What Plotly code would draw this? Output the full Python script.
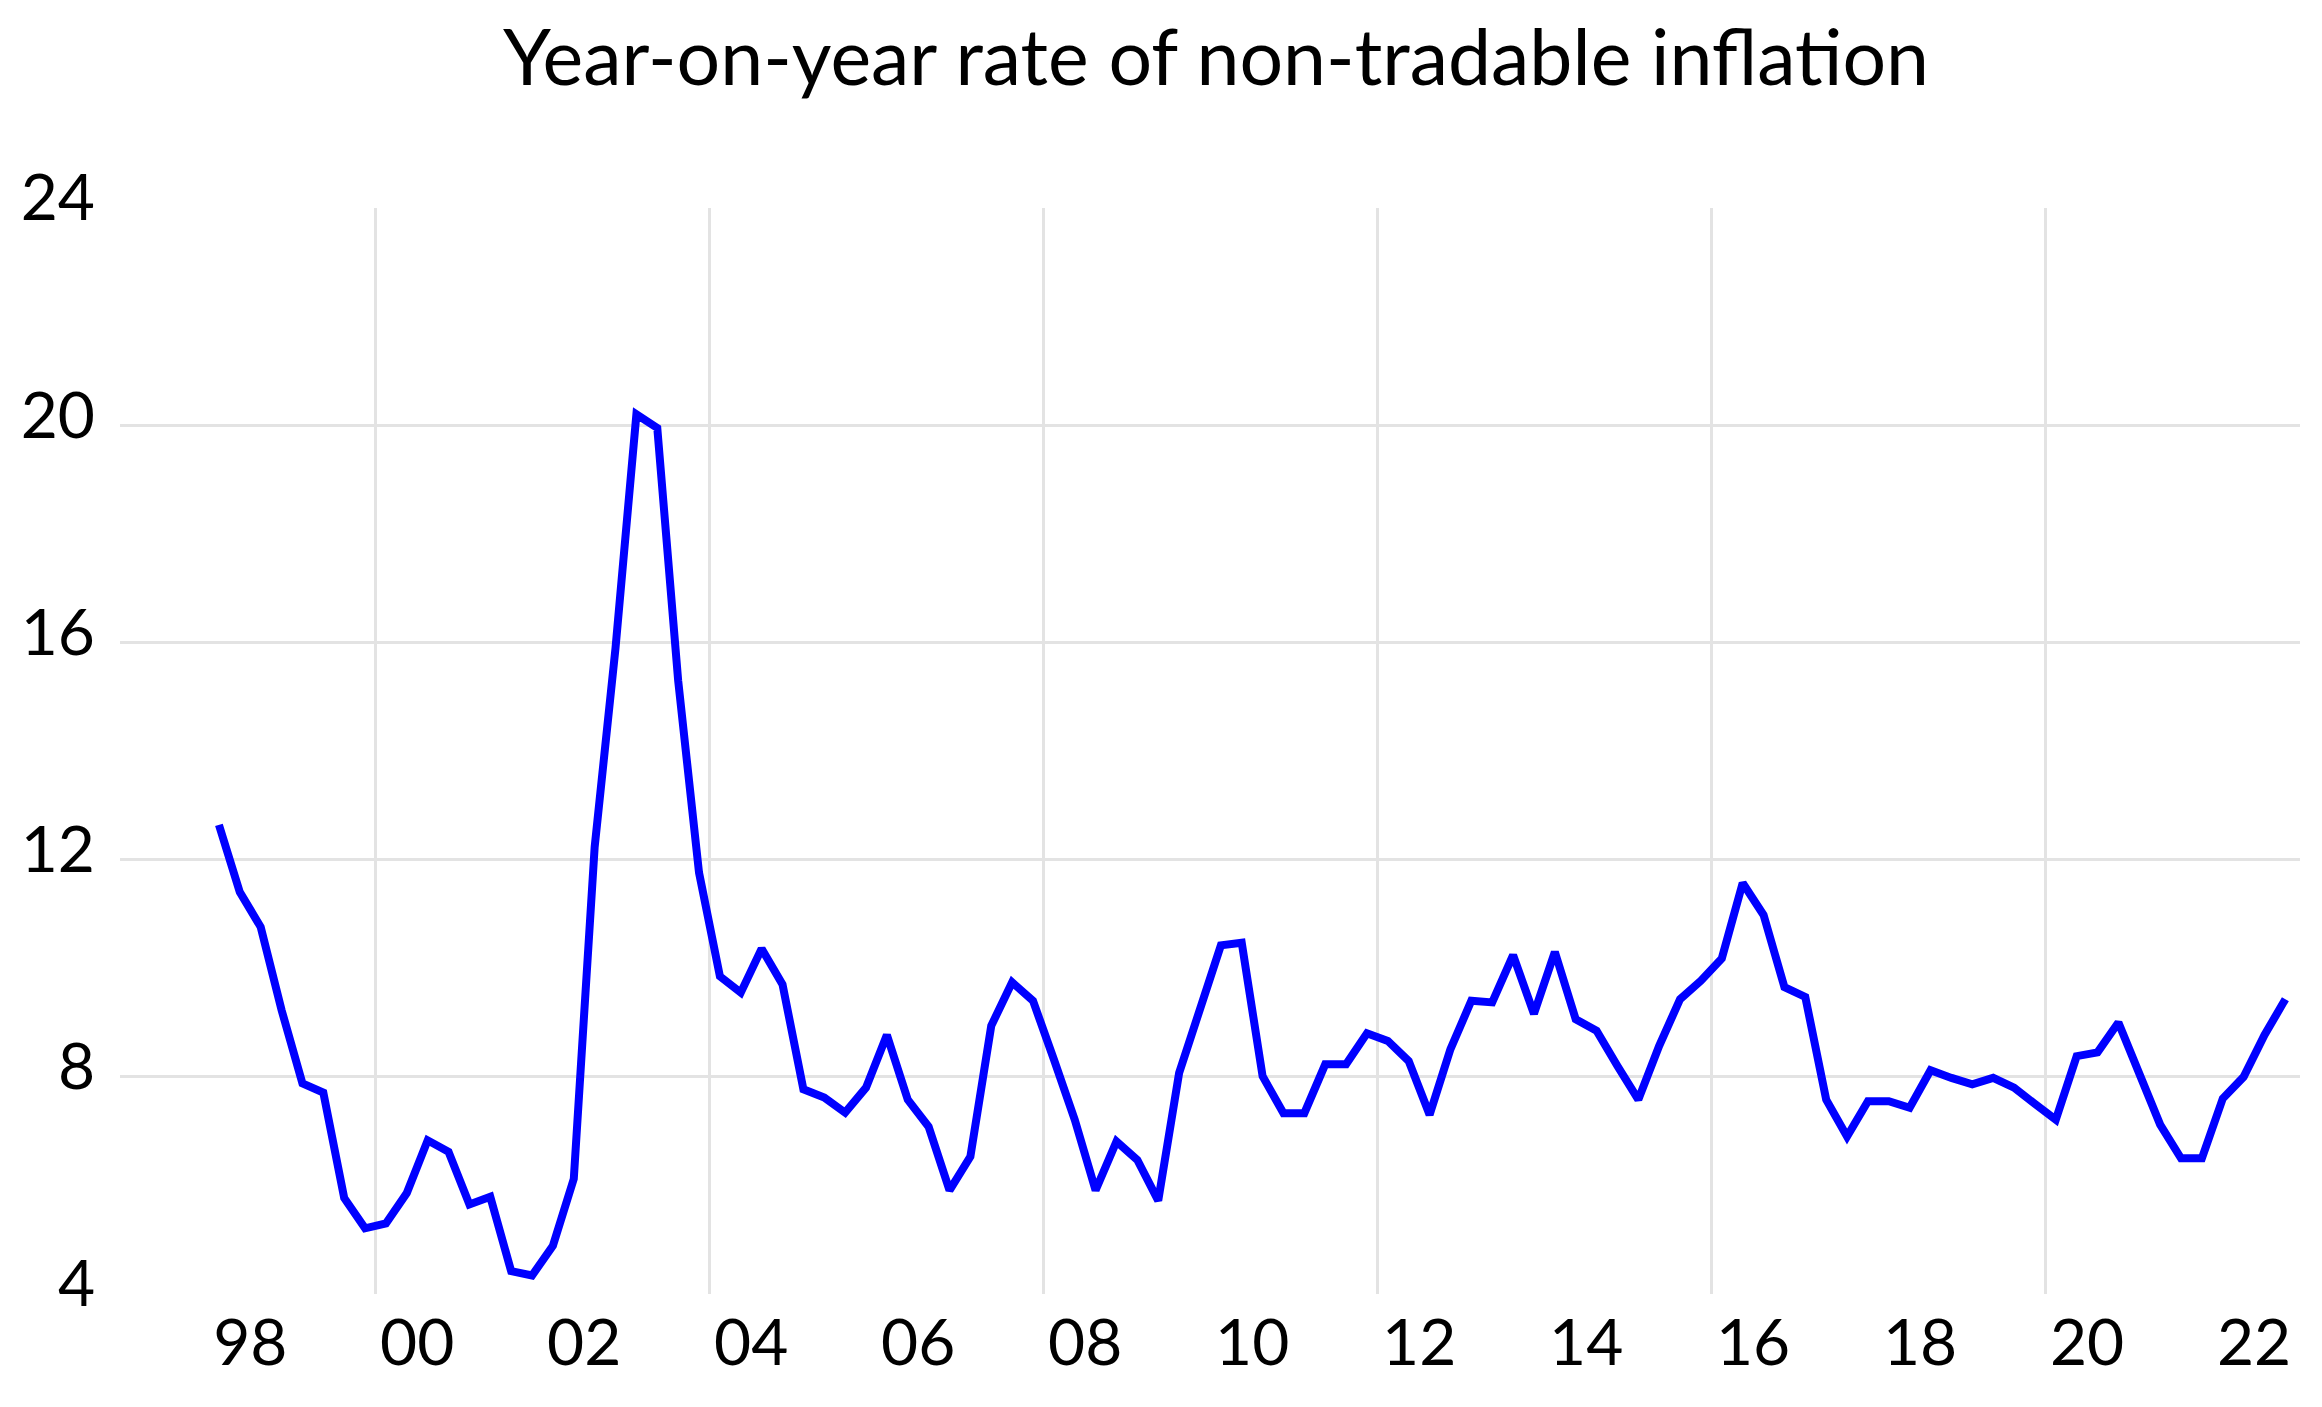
import plotly.graph_objects as go

# ---------------- data ----------------
title_text = "Year-on-year rate of non-tradable inflation"

years = list(range(1998, 2023))

# quarterly year-on-year rate, 1998Q1 ... 2022Q4 (4 values per year)
values_1998_2002 = [12.64, 11.40, 10.76, 9.23,
                    7.88, 7.71, 5.77, 5.21,
                    5.30, 5.86, 6.83, 6.62,
                    5.65, 5.79, 4.42, 4.34,
                    4.89, 6.12, 12.23, 15.90]
values_2003_2007 = [20.20, 19.95, 15.30, 11.76,
                    9.85, 9.55, 10.36, 9.70,
                    7.77, 7.62, 7.34, 7.80,
                    8.77, 7.58, 7.08, 5.91,
                    6.53, 8.94, 9.74, 9.40]
values_2008_2012 = [8.32, 7.21, 5.91, 6.81,
                    6.47, 5.72, 8.07, 9.25,
                    10.42, 10.47, 8.01, 7.33,
                    7.33, 8.23, 8.23, 8.80,
                    8.66, 8.29, 7.30, 8.51]
values_2013_2017 = [9.40, 9.37, 10.24, 9.16,
                    10.30, 9.06, 8.85, 8.20,
                    7.58, 8.57, 9.43, 9.77,
                    10.18, 11.57, 10.98, 9.65,
                    9.47, 7.58, 6.90, 7.55]
values_2018_2022 = [7.55, 7.43, 8.12, 7.98,
                    7.86, 7.98, 7.80, 7.50,
                    7.21, 8.38, 8.45, 9.00,
                    8.10, 7.12, 6.50, 6.50,
                    7.60, 8.00, 8.77, 9.43]

values = (values_1998_2002 + values_2003_2007 + values_2008_2012
          + values_2013_2017 + values_2018_2022)

quarter_labels = [f"{y}Q{q}" for y in years for q in (1, 2, 3, 4)]
# position of each quarter on a continuous year axis
x_pos = [int(lbl[:4]) + (int(lbl[-1]) - 1) * 0.25 + 0.125 for lbl in quarter_labels]

x_tick_vals = [1998.5, 2000.5, 2002.5, 2004.5, 2006.5, 2008.5, 2010.5,
               2012.5, 2014.5, 2016.5, 2018.5, 2020.5, 2022.5]
x_tick_text = ["98", "00", "02", "04", "06", "08", "10",
               "12", "14", "16", "18", "20", "22"]
x_grid_vals = [2000, 2004, 2008, 2012, 2016, 2020]
x_range = [1996.94, 2023.05]

y_tick_vals = [4, 8, 12, 16, 20, 24]
y_tick_text = ["4", "8", "12", "16", "20", "24"]
y_grid_vals = [8, 12, 16, 20]
y_range = [4, 24]

# ---------------- figure ----------------
FONT = "Lato, Carlito, Calibri, 'Open Sans', sans-serif"
GRID = "#e3e3e3"
W, H = 2314, 1399  # page body adds an 8px offset

fig = go.Figure()
# empty trace so the grid-only overlay axis gets drawn
fig.add_trace(go.Scatter(
    x=[], y=[], yaxis="y2", mode="lines",
    hoverinfo="skip", showlegend=False,
))
fig.add_trace(go.Scatter(
    x=x_pos, y=values, mode="lines",
    line=dict(color="#0000FF", width=8),
    hoverinfo="skip", showlegend=False,
))

fig.update_layout(
    width=W, height=H, autosize=False,
    margin=dict(l=112, r=22, t=200, b=113, pad=0),
    paper_bgcolor="white", plot_bgcolor="white",
    font=dict(family=FONT, color="#000000"),
    title=dict(
        text=title_text,
        font=dict(family=FONT, size=77, color="#000000"),
        x=1208 / W, xref="container", xanchor="center",
        y=1 - 50 / H, yref="container", yanchor="middle",
    ),
    showlegend=False,
    # overlay axis that only carries the horizontal grid lines
    yaxis2=dict(
        overlaying="y", anchor="x", side="left",
        range=y_range, autorange=False,
        tickmode="array", tickvals=y_grid_vals,
        showticklabels=False, ticks="",
        showgrid=True, gridcolor=GRID, gridwidth=3,
        zeroline=False, showline=False, automargin=False, fixedrange=True,
    ),
)

fig.update_xaxes(
    range=x_range, autorange=False,
    tickmode="array", tickvals=x_tick_vals, ticktext=x_tick_text,
    ticks="", showgrid=False, zeroline=False, showline=False,
    tickfont=dict(family=FONT, size=64, color="#000000"),
    ticklabelstandoff=6,
    minor=dict(tickmode="array", tickvals=x_grid_vals, showgrid=True,
               gridcolor=GRID, gridwidth=3, ticks=""),
    automargin=False, fixedrange=True,
)

fig.update_layout(yaxis=dict(
    range=y_range, autorange=False,
    tickmode="array", tickvals=y_tick_vals, ticktext=y_tick_text,
    ticks="", showgrid=False, zeroline=False, showline=False,
    tickfont=dict(family=FONT, size=64, color="#000000"),
    ticklabelstandoff=24, ticklabelshift=-10,
    automargin=False, fixedrange=True,
))

fig.write_html("out.html", config={"displayModeBar": False})
